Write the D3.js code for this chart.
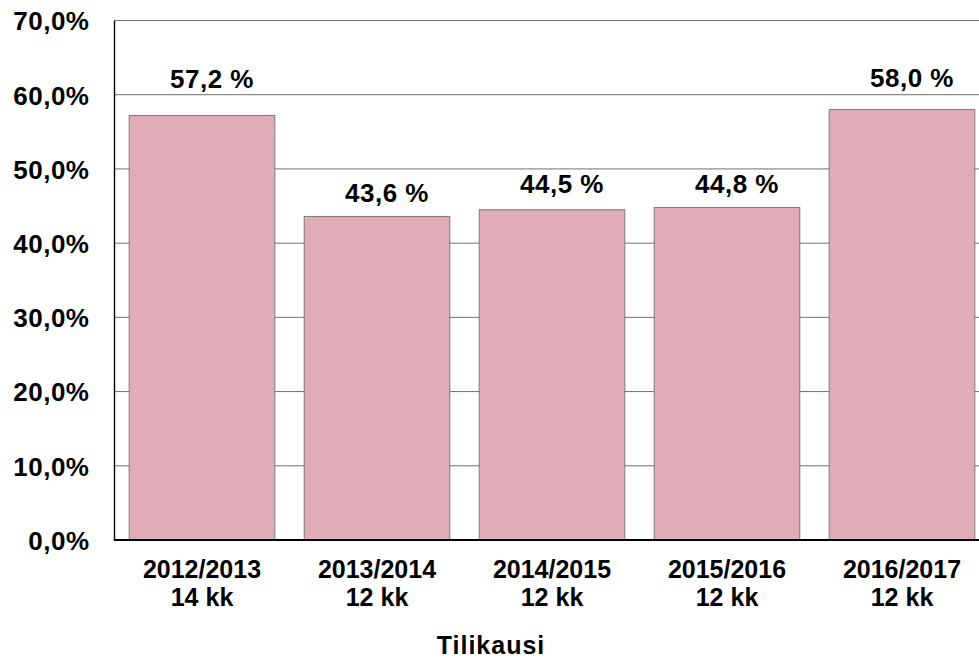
<!DOCTYPE html>
<html><head><meta charset="utf-8">
<script src="https://cdn.jsdelivr.net/npm/d3@7"></script>
<style>
html,body{margin:0;padding:0;background:#fff;overflow:hidden}
text{font-family:"Liberation Sans",Arial,Helvetica,sans-serif;font-weight:bold;fill:#000}
</style></head>
<body>
<svg id="c" width="979" height="660"></svg>
<script>
const categories = ["2012/2013", "2013/2014", "2014/2015", "2015/2016", "2016/2017"];
const periods = ["14 kk", "12 kk", "12 kk", "12 kk", "12 kk"];
const values = [57.2, 43.6, 44.5, 44.8, 58.0];
const labelLevels = [60.9, 45.5, 46.8, 46.8, 61.0];
const yTicks = [0, 10, 20, 30, 40, 50, 60, 70];
const xTitle = "Tilikausi";

const svg = d3.select("#c");
const L = 114.5, R = 989.5, T = 20.5, B = 540;
const x = d3.scaleBand().domain(categories).range([L, R]).paddingInner(0.168).paddingOuter(0.084);
const y = d3.scaleLinear().domain([0, 70]).range([B, T]);
const fmt = v => d3.format(".1f")(v).replace(".", ",");

// gridlines
svg.append("g").selectAll("line").data(yTicks.filter(t => t > 0)).join("line")
  .attr("x1", L).attr("x2", R).attr("y1", d => y(d)).attr("y2", d => y(d))
  .attr("stroke", "#707070").attr("stroke-width", 1);

// bars
svg.append("g").selectAll("rect").data(values).join("rect")
  .attr("x", (d, i) => x(categories[i]))
  .attr("width", x.bandwidth())
  .attr("y", d => y(d))
  .attr("height", d => y(0) - y(d))
  .attr("fill", "#e0acb9")
  .attr("stroke", "#7a7a7a").attr("stroke-width", 1);

// y axis
const yAxis = d3.axisLeft(y).tickValues(yTicks).tickSize(0).tickPadding(25).tickFormat(d => fmt(d) + "%");
const gy = svg.append("g").attr("transform", `translate(${L},0)`).call(yAxis);
gy.select(".domain").remove();
gy.selectAll("text").attr("font-size", 26).attr("letter-spacing", 0.5).attr("dy", "0.36em")
  .style("font-family", '"Liberation Sans",Arial,sans-serif').style("font-weight", "bold");

// axis lines
svg.append("line").attr("x1", L).attr("x2", L).attr("y1", T).attr("y2", B)
  .attr("stroke", "#000").attr("stroke-width", 1.4);
svg.append("line").attr("x1", L - 0.7).attr("x2", R).attr("y1", B).attr("y2", B)
  .attr("stroke", "#000").attr("stroke-width", 2);

// x labels
const gx = svg.append("g").selectAll("text").data(categories).join("text")
  .attr("x", d => x(d) + x.bandwidth() / 2)
  .attr("y", 577.5)
  .attr("text-anchor", "middle").attr("font-size", 25);
gx.append("tspan").text(d => d);
gx.append("tspan").attr("x", d => x(d) + x.bandwidth() / 2).attr("dy", 28.4).text((d, i) => periods[i]);

// value labels
svg.append("g").selectAll("text").data(values).join("text")
  .attr("x", (d, i) => x(categories[i]) + x.bandwidth() / 2 + 10)
  .attr("y", (d, i) => y(labelLevels[i]))
  .attr("text-anchor", "middle").attr("font-size", 26).attr("letter-spacing", 0.5)
  .text(d => fmt(d) + " %");

// x title
svg.append("text").attr("x", 491).attr("y", 654).attr("text-anchor", "middle")
  .attr("font-size", 25).attr("letter-spacing", 1).text(xTitle);
</script>
</body></html>
